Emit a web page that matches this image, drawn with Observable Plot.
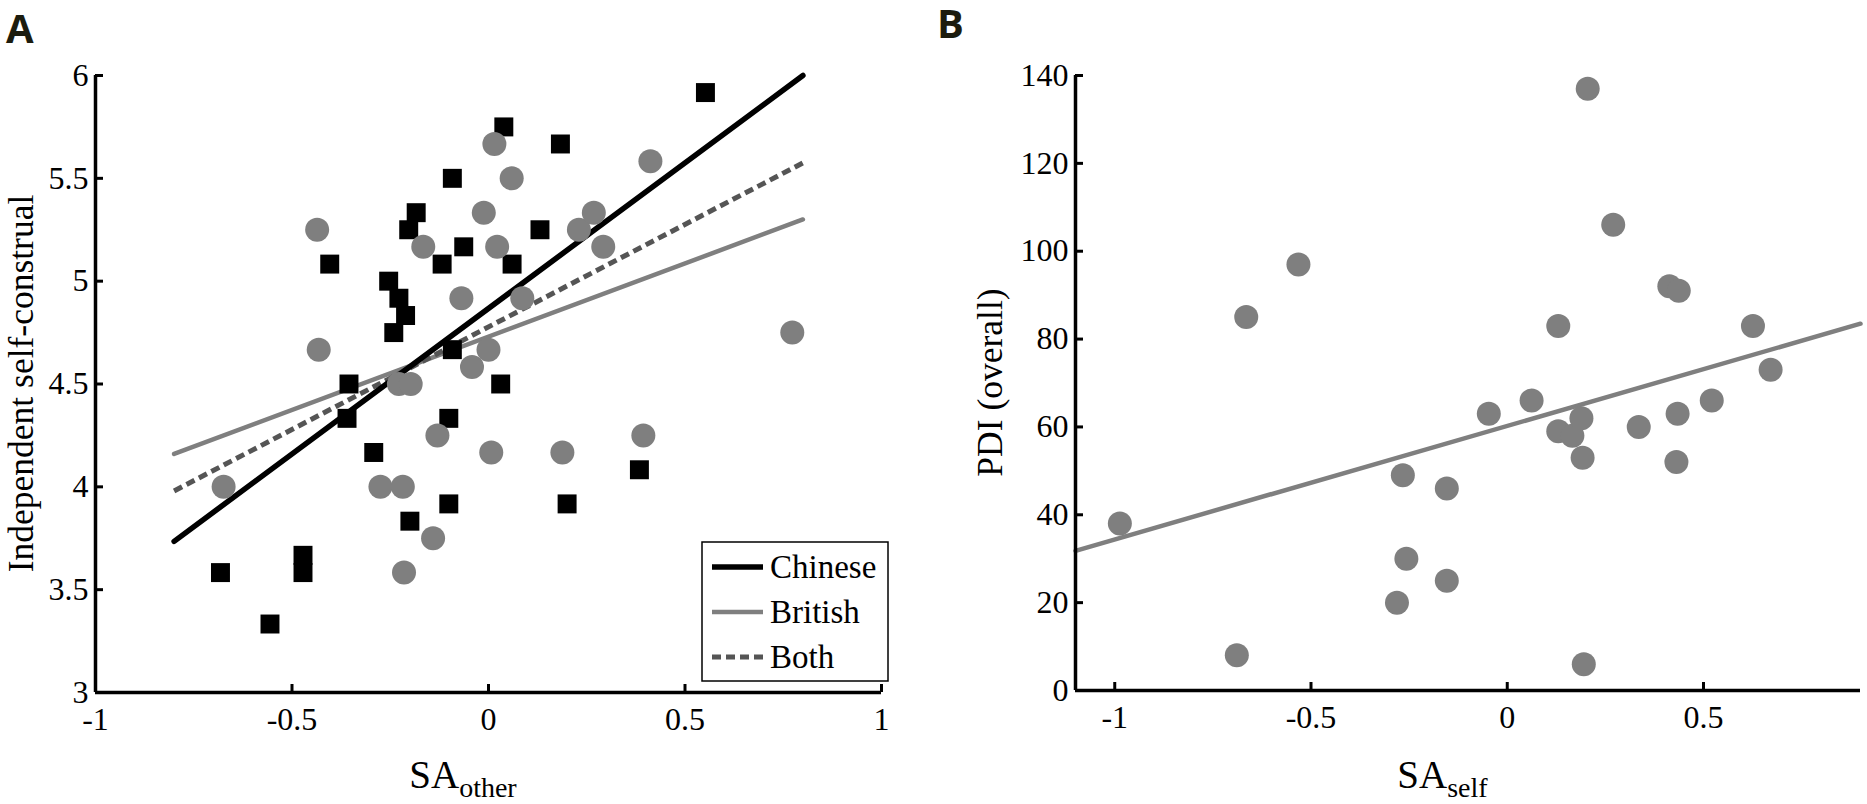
<!DOCTYPE html>
<html><head><meta charset="utf-8">
<script src="https://cdn.jsdelivr.net/npm/d3@7"></script>
<script src="https://cdn.jsdelivr.net/npm/@observablehq/plot@0.6"></script>
<style>
html,body{margin:0;padding:0;background:#fff}
body{width:1867px;height:804px;overflow:hidden;position:relative}
#a{position:absolute;left:0;top:0;width:933px;height:804px}
#b{position:absolute;left:933px;top:0;width:934px;height:804px}
</style></head><body>
<div id="a"></div><div id="b"></div>
<script>
// ---------- Panel A data ----------
const chineseX = [0.552, 0.039, 0.183, -0.092, -0.184, -0.203, 0.131, -0.063, -0.404, -0.118, 0.060, -0.254, -0.228, -0.211, -0.241, -0.092, -0.355, 0.031, -0.360, -0.101, -0.292, -0.101, 0.200, -0.200, 0.384, -0.682, -0.472, -0.472, -0.556];
const chineseY = [5.917, 5.750, 5.667, 5.500, 5.333, 5.250, 5.250, 5.167, 5.083, 5.083, 5.083, 5.000, 4.917, 4.833, 4.750, 4.667, 4.500, 4.500, 4.333, 4.333, 4.167, 3.917, 3.917, 3.833, 4.083, 3.583, 3.667, 3.583, 3.333];
const britishX = [0.015, 0.059, 0.412, -0.436, -0.012, -0.166, 0.022, 0.230, 0.268, 0.292, -0.069, 0.086, -0.432, 0.000, -0.042, -0.228, -0.198, 0.773, -0.130, 0.394, 0.007, 0.188, -0.674, -0.275, -0.218, -0.141, -0.215];
const britishY = [5.667, 5.500, 5.583, 5.250, 5.333, 5.167, 5.167, 5.250, 5.333, 5.167, 4.917, 4.917, 4.667, 4.667, 4.583, 4.500, 4.500, 4.750, 4.250, 4.250, 4.167, 4.167, 4.000, 4.000, 4.000, 3.750, 3.583];
const fitXA = [-0.8, 0.8];
const fitChinese = [3.735, 6.0];
const fitBritish = [4.16, 5.30];
const fitBoth = [3.98, 5.575];
const xTicksA = [-1, -0.5, 0, 0.5, 1];
const yTicksA = [3, 3.5, 4, 4.5, 5, 5.5, 6];
const legendNames = ["Chinese", "British", "Both"];

// ---------- Panel B data ----------
const pdiX = [0.205, 0.270, 0.413, 0.437, -0.532, -0.665, -0.987, -0.689, -0.266, -0.257, -0.281, -0.154, -0.154, -0.047, 0.062, 0.130, 0.130, 0.166, 0.189, 0.192, 0.195, 0.335, 0.434, 0.431, 0.521, 0.626, 0.671];
const pdiY = [137, 106, 92, 91, 97, 85, 38, 8, 49, 30, 20, 46, 25, 63, 66, 83, 59, 58, 62, 53, 6, 60, 63, 52, 66, 83, 73];
const fitXB = [-1.1, 0.9];
const fitPDI = [31.8, 83.5];
const xTicksB = [-1, -0.5, 0, 0.5];
const yTicksB = [0, 20, 40, 60, 80, 100, 120, 140];

const chinese = chineseX.map((x, i) => ({x, y: chineseY[i]}));
const british = britishX.map((x, i) => ({x, y: britishY[i]}));
const fitA = [
  ...fitXA.map((x, i) => ({x, y: fitChinese[i], g: "Chinese"})),
  ...fitXA.map((x, i) => ({x, y: fitBritish[i], g: "British"})),
  ...fitXA.map((x, i) => ({x, y: fitBoth[i], g: "Both"}))
];
const pdi = pdiX.map((x, i) => ({x, y: pdiY[i]}));
const fitB = fitXB.map((x, i) => ({x, y: fitPDI[i]}));

const GREY = "#7f7f7f", DASH = "#555555";
const FONT = "'Liberation Serif', 'Times New Roman', serif";
const fmt = d => String(d);
const TICK_FS = 32;
const style = {fontFamily: FONT, fontSize: TICK_FS + "px", color: "#000", background: "transparent", overflow: "visible"};

// ---------- Panel A ----------
const A = {w: 933, h: 804, ml: 95, mr: 52, mt: 75, mb: 112};
const pwA = A.w - A.ml - A.mr, phA = A.h - A.mt - A.mb;
const plotA = Plot.plot({
  width: A.w, height: A.h,
  marginLeft: A.ml, marginRight: A.mr, marginTop: A.mt, marginBottom: A.mb,
  style,
  x: {domain: [-1, 1]},
  y: {domain: [3, 6]},
  marks: [
    Plot.axisX(xTicksA, {tickSize: 0, tickPadding: 15, tickFormat: fmt, fontSize: TICK_FS, label: null}),
    Plot.axisY(yTicksA, {tickSize: 0, tickPadding: 7, tickFormat: fmt, fontSize: TICK_FS, label: null}),
    Plot.ruleX(xTicksA, {insetTop: phA - 8, stroke: "#000", strokeWidth: 3}),
    Plot.ruleY(yTicksA, {insetRight: pwA - 8, stroke: "#000", strokeWidth: 3}),
    Plot.line(fitA.filter(d => d.g === "British"), {x: "x", y: "y", stroke: GREY, strokeWidth: 4.5}),
    Plot.line(fitA.filter(d => d.g === "Both"), {x: "x", y: "y", stroke: DASH, strokeWidth: 5, strokeDasharray: "9,5", strokeLinecap: "butt"}),
    Plot.line(fitA.filter(d => d.g === "Chinese"), {x: "x", y: "y", stroke: "#000", strokeWidth: 5.5}),
    Plot.dot(chinese, {x: "x", y: "y", symbol: "square", r: 10.7, fill: "#000", stroke: null}),
    Plot.dot(british, {x: "x", y: "y", symbol: "circle", r: 12, fill: GREY, stroke: null}),
    Plot.ruleY([yTicksA[0]], {stroke: "#000", strokeWidth: 3.5}),
    Plot.ruleX([xTicksA[0]], {stroke: "#000", strokeWidth: 3.5})
  ]
});
document.getElementById("a").appendChild(plotA);

// ---------- Panel B ----------
const B = {w: 934, h: 804, ml: 142, mr: 7, mt: 75, mb: 114};
const pwB = B.w - B.ml - B.mr, phB = B.h - B.mt - B.mb;
const plotB = Plot.plot({
  width: B.w, height: B.h,
  marginLeft: B.ml, marginRight: B.mr, marginTop: B.mt, marginBottom: B.mb,
  style,
  x: {domain: [-1.1, 0.9]},
  y: {domain: [0, 140]},
  marks: [
    Plot.axisX(xTicksB, {tickSize: 0, tickPadding: 15, tickFormat: fmt, fontSize: TICK_FS, label: null}),
    Plot.axisY(yTicksB, {tickSize: 0, tickPadding: 7, tickFormat: fmt, fontSize: TICK_FS, label: null}),
    Plot.ruleX(xTicksB, {insetTop: phB - 8, stroke: "#000", strokeWidth: 3}),
    Plot.ruleY(yTicksB, {insetRight: pwB - 8, stroke: "#000", strokeWidth: 3}),
    Plot.line(fitB, {x: "x", y: "y", stroke: GREY, strokeWidth: 4.5}),
    Plot.dot(pdi, {x: "x", y: "y", symbol: "circle", r: 12, fill: GREY, stroke: null}),
    Plot.ruleY([yTicksB[0]], {stroke: "#000", strokeWidth: 3.5}),
    Plot.ruleX([fitXB[0]], {stroke: "#000", strokeWidth: 3.5})
  ]
});
document.getElementById("b").appendChild(plotB);

// force serif font on all Plot-generated text
[plotA, plotB].forEach(p => d3.select(p).selectAll("text").style("font-family", FONT).style("font-size", TICK_FS + "px").attr("fill", "#000"));

// ---------- Text labels, legend, panel letters ----------
function addLabels(svgNode, opt) {
  const svg = d3.select(svgNode);
  svg.append("text").attr("x", opt.letterX).attr("y", opt.letterY)
    .attr("text-anchor", "start")
    .style("font-family", "'Open Sans', 'DejaVu Sans', sans-serif").style("font-weight", "700")
    .style("font-size", "40px").attr("fill", "#1c1c0e").text(opt.letter);
  svg.append("text")
    .attr("transform", `translate(${opt.yLabelX},${opt.mt + opt.ph / 2}) rotate(-90)`)
    .attr("text-anchor", "middle").style("font-family", FONT).style("font-size", "35.5px")
    .attr("fill", "#000").text(opt.yLabel);
  const t = svg.append("text").attr("x", opt.ml + opt.pw / 2 - 25).attr("y", opt.xLabelY)
    .attr("text-anchor", "middle").style("font-family", FONT).attr("fill", "#000");
  t.append("tspan").style("font-size", "39px").text("SA");
  t.append("tspan").attr("dy", 9).style("font-size", "28px").text(opt.xSub);
}
addLabels(plotA, {letter: "A", letterX: 6, letterY: 43, yLabelX: 33, yLabel: "Independent self-construal",
  mt: A.mt, ph: phA, ml: A.ml, pw: pwA, xLabelY: 788, xSub: "other"});
addLabels(plotB, {letter: "B", letterX: 4, letterY: 38, yLabelX: 69, yLabel: "PDI (overall)",
  mt: B.mt, ph: phB, ml: B.ml, pw: pwB, xLabelY: 788, xSub: "self"});

// legend (panel A)
{
  const svg = d3.select(plotA);
  const bx = 702, by = 542, bw = 186, bh = 139;
  svg.append("rect").attr("x", bx).attr("y", by).attr("width", bw).attr("height", bh)
    .attr("fill", "#fff").attr("stroke", "#000").attr("stroke-width", 1.5);
  const styles = {
    Chinese: {stroke: "#000", w: 5.5, dash: null},
    British: {stroke: GREY, w: 4.5, dash: null},
    Both: {stroke: DASH, w: 5, dash: "9,5"}
  };
  legendNames.forEach((name, i) => {
    const y = by + 25 + i * 45;
    const s = styles[name];
    svg.append("line").attr("x1", bx + 10).attr("x2", bx + 61).attr("y1", y).attr("y2", y)
      .attr("stroke", s.stroke).attr("stroke-width", s.w).attr("stroke-dasharray", s.dash);
    svg.append("text").attr("x", bx + 68).attr("y", y + 11)
      .attr("text-anchor", "start").style("font-family", FONT).style("font-size", "33px")
      .attr("fill", "#000").text(name);
  });
}
</script>
</body></html>
